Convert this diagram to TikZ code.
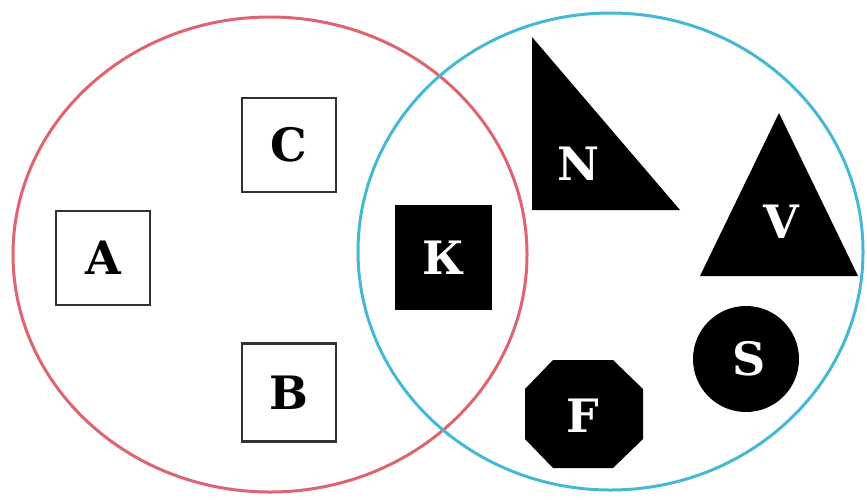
\documentclass[tikz,border=0pt]{standalone}
\usepackage{fontspec}
\setmainfont{DejaVu Serif}
\definecolor{vred}{RGB}{222,100,112}
\definecolor{vblue}{RGB}{70,184,214}
\definecolor{boxline}{RGB}{50,50,50}
\begin{document}
\begin{tikzpicture}[x=1pt,y=-1pt,
  setline/.style={line width=3pt},
  lbl/.style={font=\fontsize{46}{46}\selectfont\bfseries, inner sep=0pt},
  wlbl/.style={lbl, text=white},
  wbox/.style={lbl, draw=boxline, line width=2.2pt, fill=white, minimum width=94pt, minimum height=94pt},
  bshape/.style={fill=black}]
\useasboundingbox (0,0) rectangle (867,499);
% sets
\draw[setline, vred] (270,254.5) ellipse [x radius=257pt, y radius=237.5pt];
\draw[setline, vblue] (610.5,251.5) ellipse [x radius=252.5pt, y radius=238.5pt];
% white squares
\node[wbox] (A) at (103,258) {A};
\node[wbox] (C) at (289,145) {C};
\node[wbox, minimum height=98pt] (B) at (289,392.5) {B};
% black square
\node[wlbl, fill=black, minimum width=97pt, minimum height=105pt] (K) at (443.5,257.5) {К};
% right triangle N
\fill[bshape] (532,37) -- (532,210) -- (680,210) -- cycle;
\node[wlbl] (N) at (579,164) {N};
% triangle V
\fill[bshape] (779,113) -- (858,276) -- (700,276) -- cycle;
\node[wlbl] (V) at (781,222) {V};
% circle S
\fill[bshape] (746,359) circle [radius=53pt];
\node[wlbl] (S) at (749,359) {S};
% octagon F
\fill[bshape] (553,360) -- (613,360) -- (643,389) -- (643,439) -- (613,468) -- (553,468) -- (525,439) -- (525,389) -- cycle;
\node[wlbl] (F) at (583,416) {F};
\end{tikzpicture}
\end{document}
